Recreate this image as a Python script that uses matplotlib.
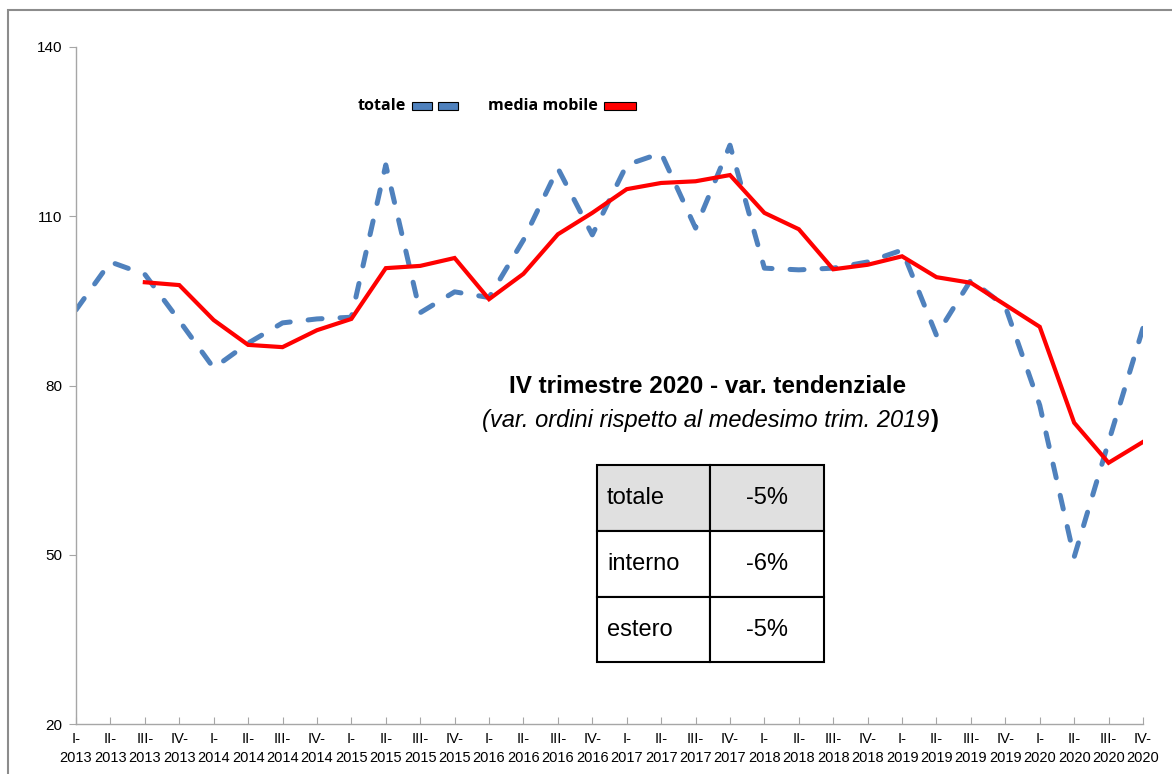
import matplotlib
matplotlib.use("Agg")
import matplotlib.pyplot as plt
import numpy as np
from matplotlib.patches import Rectangle

W, H = 1172, 774

years = [2013, 2014, 2015, 2016, 2017, 2018, 2019, 2020]
quarters = ["I", "II", "III", "IV"]

totale = [93.4, 101.9, 99.7, 91.5, 83.1, 87.5, 91.1, 91.8,
          92.1, 119.1, 92.9, 96.6, 95.6, 105.8, 118.5, 106.7,
          119.1, 121.2, 107.9, 122.6, 100.8, 100.5, 100.8, 101.9,
          104.0, 88.9, 98.7, 94.0, 76.5, 49.6, 70.0, 90.2]
media_mobile = [np.nan, np.nan, 98.3, 97.8, 91.6, 87.2, 86.8, 89.8,
                91.8, 100.8, 101.2, 102.6, 95.3, 99.8, 106.8, 110.6,
                114.8, 115.9, 116.2, 117.3, 110.6, 107.7, 100.6, 101.4,
                102.9, 99.2, 98.2, 94.3, 90.4, 73.4, 66.3, 70.0]

yticks = [20, 50, 80, 110, 140]

tab_labels = ["totale", "interno", "estero"]
tab_values = ["-5%", "-6%", "-5%"]

labels = [f"{q}-\n{y}" for y in years for q in quarters]
x = np.arange(len(labels))

BLUE = "#4F81BD"
RED = "#FF0000"
GREY = "#A6A6A6"


def fx(px):
    return px / W


def fy(py):
    return 1 - py / H


fig = plt.figure(figsize=(W / 100, H / 100), dpi=100)
ax = fig.add_axes([fx(76), fy(724), fx(1143) - fx(76), fy(47) - fy(724)])

ax.plot(x, totale, color=BLUE, lw=3.6, linestyle=(0, (2.8, 3.6)),
        dash_capstyle="round", solid_capstyle="round")
ax.plot(x, media_mobile, color=RED, lw=3.0, solid_joinstyle="miter")

ax.set_xlim(0, len(labels) - 1)
ax.set_ylim(20, 140)
ax.set_yticks(yticks)
ax.set_xticks(x)
ax.set_xticklabels(labels, family="Liberation Sans", fontsize=10.5,
                   linespacing=1.4)
for lab in ax.get_yticklabels():
    lab.set_family("Liberation Sans")
    lab.set_fontsize(11)

for s in ["top", "right"]:
    ax.spines[s].set_visible(False)
for s in ["left", "bottom"]:
    ax.spines[s].set_color(GREY)
    ax.spines[s].set_linewidth(1.0)
ax.tick_params(axis="x", direction="in", length=5, color=GREY, pad=6)
ax.tick_params(axis="y", direction="out", length=5, color=GREY, pad=5)

# outer frame
fig.patches.append(Rectangle((fx(8), fy(H + 20)), 1.2, fy(10) - fy(H + 20),
                             transform=fig.transFigure, fill=False,
                             edgecolor="#8C8C8C", lw=1.5))

# legend
fig.text(fx(358), fy(106), "totale", family="Open Sans", weight="bold",
         fontsize=11.6, va="center", ha="left")
for x0 in (412, 438):
    fig.patches.append(Rectangle((fx(x0), fy(110)), fx(20), fy(102) - fy(110),
                                 transform=fig.transFigure, facecolor=BLUE,
                                 edgecolor="black", lw=0.8))
fig.text(fx(488), fy(106), "media mobile", family="Open Sans", weight="bold",
         fontsize=11.6, va="center", ha="left")
fig.patches.append(Rectangle((fx(604), fy(110)), fx(32), fy(102) - fy(110),
                             transform=fig.transFigure, facecolor=RED,
                             edgecolor="black", lw=0.8))

# annotation
fam = "Liberation Sans"
fig.text(fx(708), fy(386), "IV trimestre 2020 - var. tendenziale",
         family=fam, weight="bold", fontsize=17.5, ha="center", va="center")
sub = fig.text(fx(706), fy(421), "(var. ordini rispetto al medesimo trim. 2019",
               family=fam, style="italic", fontsize=17, ha="center",
               va="center")
fig.canvas.draw()
bb = sub.get_window_extent(renderer=fig.canvas.get_renderer())
fig.text(bb.x1 / W + fx(1), fy(421), ")", family=fam, weight="bold",
         fontsize=17, ha="left", va="center")

# table
tx0, tx1, tx2 = 597, 710, 824
rows = [465, 531, 597, 662]
for i, (lab, val) in enumerate(zip(tab_labels, tab_values)):
    top, bot = rows[i], rows[i + 1]
    face = "#E0E0E0" if i == 0 else "white"
    for a, b in ((tx0, tx1), (tx1, tx2)):
        fig.patches.append(Rectangle((fx(a), fy(bot)), fx(b) - fx(a),
                                     fy(top) - fy(bot),
                                     transform=fig.transFigure,
                                     facecolor=face, edgecolor="black", lw=1.5))
    yc = (top + bot) / 2
    fig.text(fx(607), fy(yc), lab, family=fam, fontsize=17,
             ha="left", va="center")
    fig.text(fx((tx1 + tx2) / 2), fy(yc), val, family=fam, fontsize=17,
             ha="center", va="center")

fig.savefig("out.png", dpi=100)
